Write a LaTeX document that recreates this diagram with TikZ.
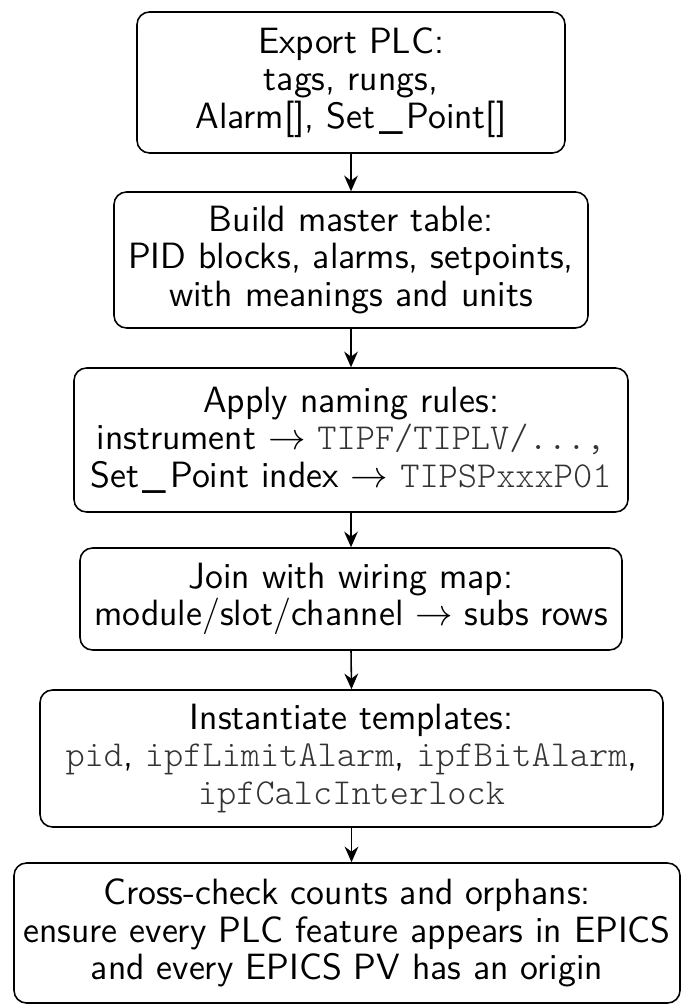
\documentclass[tikz,border=0pt]{standalone}
\usepackage{fontspec}
\setmonofont{Latin Modern Mono Light}
\usetikzlibrary{arrows.meta}
\definecolor{codegray}{gray}{0.2}
\newcommand{\code}[1]{{\ttfamily\color{codegray}#1}}
\newcommand{\usc}{\hspace{0.1em}\_\hspace{0.1em}}
\tikzset{
  stepbox/.style={draw, rounded corners=4pt, line width=0.5pt, align=center,
    inner sep=0pt, font=\sffamily\fontsize{11.7}{12}\selectfont},
  flow/.style={-{Stealth[length=5pt,width=4.4pt]}, line width=0.5pt}
}
\begin{document}
\begin{tikzpicture}[x=0.32pt,y=-0.32pt]
\useasboundingbox (0,0) rectangle (681,1006);
\node[stepbox, minimum width=136.96pt, minimum height=45.12pt] (b1) at (351,82.5)
  {Export PLC:\\tags, rungs,\\Alarm[], Set\usc Point[]};
\node[stepbox, minimum width=151.68pt, minimum height=43.52pt] (b2) at (351,260)
  {Build master table:\\PID blocks, alarms, setpoints,\\with meanings and units};
\node[stepbox, minimum width=177.28pt, minimum height=46.08pt] (b3) at (351,440)
  {Apply naming rules:\\instrument $\rightarrow$ \code{TIPF/TIPLV/...,}\\Set\usc Point index $\rightarrow$ \code{TIPSPxxxP01}};
\node[stepbox, minimum width=173.44pt, minimum height=32.64pt] (b4) at (351,599)
  {Join with wiring map:\\module/slot/channel $\rightarrow$ subs rows};
\node[stepbox, minimum width=199.36pt, minimum height=43.84pt] (b5) at (351.5,758.5)
  {Instantiate templates:\\\code{pid}, \code{ipfLimitAlarm}, \code{ipfBitAlarm},\\\code{ipfCalcInterlock}};
\node[stepbox, minimum width=213.12pt, minimum height=44.8pt] (b6) at (347,933)
  {Cross-check counts and orphans:\\ensure every PLC feature appears in EPICS\\and every EPICS PV has an origin};
\draw[flow] (b1.south) -- (b2.north);
\draw[flow] (b2.south) -- (b3.north);
\draw[flow] (b3.south) -- (b4.north);
\draw[flow] (b4.south) -- (b5.north);
\draw[flow] (b5.south) -- (b5.south |- b6.north);
\end{tikzpicture}
\end{document}
